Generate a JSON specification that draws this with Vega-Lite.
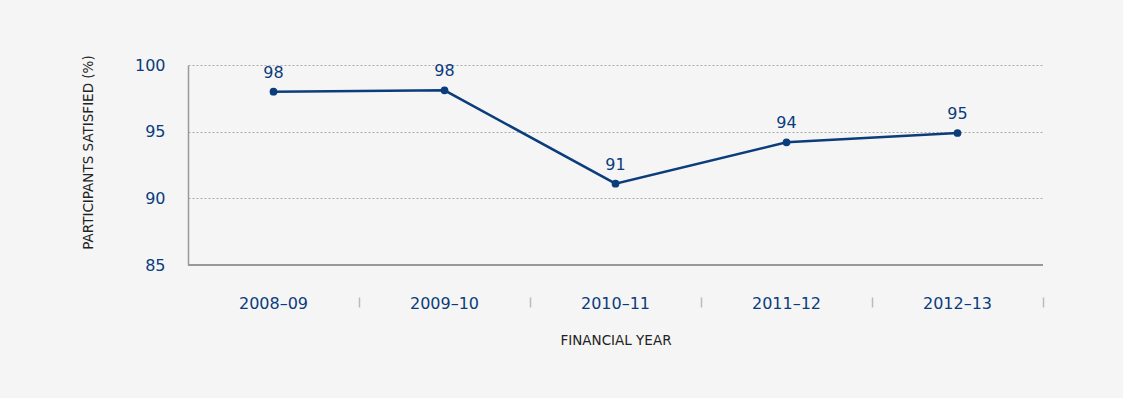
{
  "$schema": "https://vega.github.io/schema/vega-lite/v6.json",
  "width": 855,
  "height": 200,
  "autosize": {"type": "none"},
  "padding": {"left": 188, "top": 65, "right": 80, "bottom": 133},
  "background": "#f5f5f5",
  "config": {
    "view": {"stroke": null},
    "font": "DejaVu Sans"
  },
  "data": {
    "values": [
      {"year": "2008–09", "value": 98.0, "label": "98"},
      {"year": "2009–10", "value": 98.1, "label": "98"},
      {"year": "2010–11", "value": 91.1, "label": "91"},
      {"year": "2011–12", "value": 94.2, "label": "94"},
      {"year": "2012–13", "value": 94.9, "label": "95"}
    ]
  },
  "encoding": {
    "x": {
      "field": "year",
      "type": "ordinal",
      "sort": null,
      "scale": {"type": "band", "paddingInner": 0, "paddingOuter": 0},
      "axis": {
        "title": "FINANCIAL YEAR",
        "titleFont": "DejaVu Sans",
        "titleFontSize": 13.5,
        "titleFontWeight": "normal",
        "titleColor": "#222222",
        "titleBaseline": "middle",
        "titleY": 43,
        "offset": 32,
        "domain": false,
        "grid": false,
        "bandPosition": 1,
        "tickColor": "#bbbbbb",
        "tickWidth": 1.5,
        "tickSize": 10,
        "labelAngle": 0,
        "labelFontSize": 16,
        "labelColor": "#0b3c7c",
        "labelBaseline": "middle",
        "labelPadding": -4
      }
    },
    "y": {
      "field": "value",
      "type": "quantitative",
      "scale": {"domain": [85, 100], "nice": false, "zero": false},
      "axis": {
        "title": "PARTICIPANTS SATISFIED (%)",
        "titleFont": "DejaVu Sans",
        "titleFontSize": 13.5,
        "titleFontWeight": "normal",
        "titleColor": "#222222",
        "titleBaseline": "middle",
        "titleX": -100,
        "titleY": 87,
        "values": [85, 90, 95, 100],
        "domain": true,
        "domainColor": "#999999",
        "domainWidth": 1.5,
        "ticks": false,
        "labelPadding": 23,
        "labelFontSize": 16,
        "labelColor": "#0b3c7c",
        "grid": true,
        "gridColor": "#aaaaaa",
        "gridDash": [2, 2],
        "gridWidth": 1
      }
    }
  },
  "layer": [
    {
      "mark": {"type": "rule", "color": "#999999", "strokeWidth": 1.5},
      "encoding": {"y": {"datum": 85}, "x": null}
    },
    {
      "mark": {"type": "line", "color": "#0b3c7c", "strokeWidth": 2.5}
    },
    {
      "mark": {"type": "point", "filled": true, "color": "#0b3c7c", "size": 60, "opacity": 1}
    },
    {
      "mark": {"type": "text", "color": "#0b3c7c", "fontSize": 16, "dy": -19, "baseline": "middle"},
      "encoding": {"text": {"field": "label"}}
    }
  ]
}
